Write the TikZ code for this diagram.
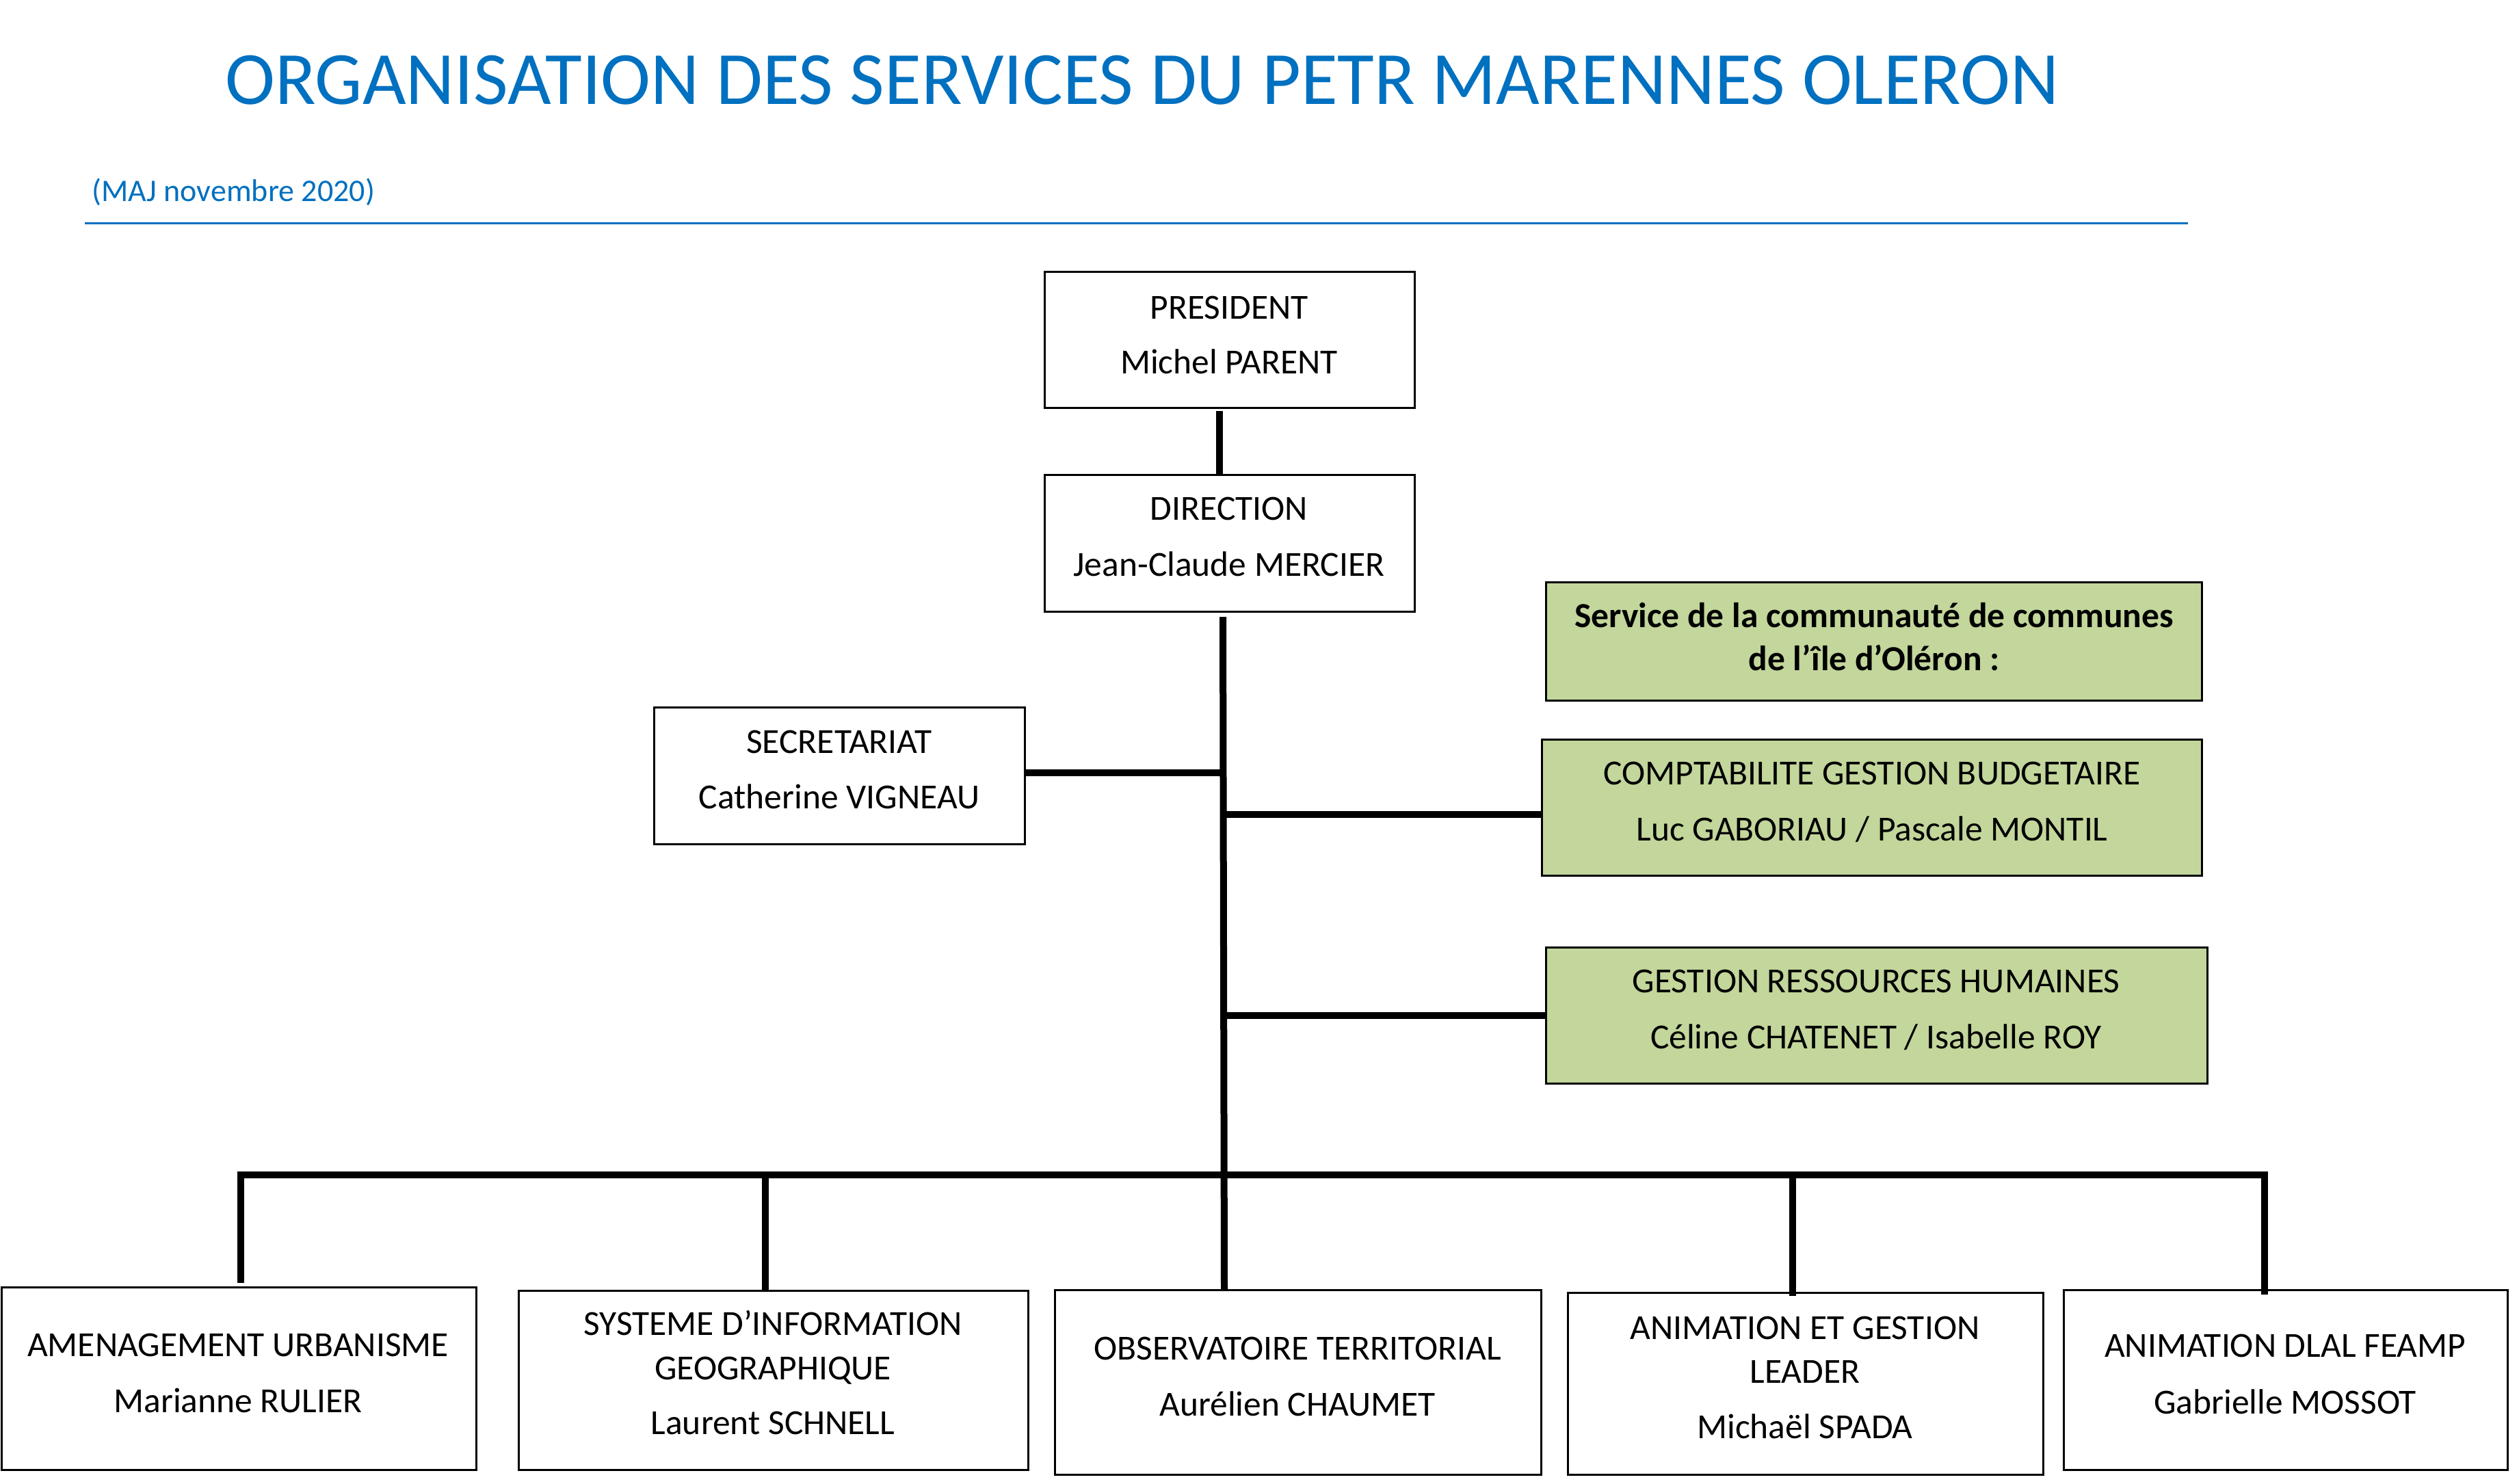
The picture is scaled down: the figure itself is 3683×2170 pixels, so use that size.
\documentclass[tikz,border=0pt]{standalone}
\usepackage{fontspec}
\setmainfont{Carlito}
\definecolor{ttlblue}{HTML}{0070C0}
\definecolor{ccgreen}{HTML}{C3D69B}
\tikzset{
  orgbox/.style={draw=black, line width=3pt, inner sep=0pt, outer sep=0pt, fill=white},
  greenbox/.style={orgbox, fill=ccgreen},
  btxt/.style={anchor=base, inner sep=0pt, font=\fontsize{51.5}{60}\selectfont},
  link/.style={line width=10pt, draw=black},
}
\begin{document}
\begin{tikzpicture}[x=1pt, y=-1pt]
\useasboundingbox (0,0) rectangle (3683,2170);

% title
\node[anchor=base west, inner sep=0pt, text=ttlblue, font=\fontsize{110}{130}\selectfont] (title) at (329,153) {ORGANISATION DES SERVICES DU PETR MARENNES OLERON};
\node[anchor=base west, inner sep=0pt, text=ttlblue, font=\fontsize{46}{54}\selectfont] (maj) at (134,294) {(MAJ novembre 2020)};
\coordinate (rl) at (124,326);
\coordinate (rr) at (3199,326);
\draw[ttlblue, line width=3pt] (rl) -- (rr);

% boxes
\node[orgbox, minimum width=541pt, minimum height=199pt] (pres) at (1797.5,496.5) {};
\node[orgbox, minimum width=541pt, minimum height=200pt] (dir) at (1797.5,794) {};
\node[orgbox, minimum width=542pt, minimum height=200pt] (sec) at (1227,1134) {};
\node[greenbox, minimum width=959pt, minimum height=173pt] (ccoi) at (2739.5,937.5) {};
\node[greenbox, minimum width=965pt, minimum height=199pt] (compta) at (2736.5,1180.5) {};
\node[greenbox, minimum width=967pt, minimum height=199pt] (grh) at (2743.5,1484.5) {};
\node[orgbox, minimum width=694pt, minimum height=267pt] (b1) at (349,2015.5) {};
\node[orgbox, minimum width=745pt, minimum height=262pt] (b2) at (1130.5,2018) {};
\node[orgbox, minimum width=711pt, minimum height=270pt] (b3) at (1897.5,2021) {};
\node[orgbox, minimum width=695pt, minimum height=266pt] (b4) at (2639.5,2023) {};
\node[orgbox, minimum width=649pt, minimum height=263pt] (b5) at (3341.5,2017.5) {};

% texts
\node[btxt] (presA) at (1797,466) {PRESIDENT};
\node[btxt] (presB) at (1797,546) {Michel PARENT};
\node[btxt] (dirA) at (1797,760) {DIRECTION};
\node[btxt] (dirB) at (1797,842) {Jean-Claude MERCIER};
\node[btxt] (secA) at (1227,1101) {SECRETARIAT};
\node[btxt] (secB) at (1227,1182) {Catherine VIGNEAU};
\node[btxt, font=\fontsize{51.5}{60}\selectfont\bfseries] (ccoiA) at (2740,917) {Service de la communauté de communes};
\node[btxt, font=\fontsize{51.5}{60}\selectfont\bfseries] (ccoiB) at (2740,980) {de l’île d’Oléron :};
\node[btxt] (comptaA) at (2737,1147) {COMPTABILITE GESTION BUDGETAIRE};
\node[btxt] (comptaB) at (2737,1229) {Luc GABORIAU / Pascale MONTIL};
\node[btxt] (grhA) at (2743,1451) {GESTION RESSOURCES HUMAINES};
\node[btxt] (grhB) at (2743,1533) {Céline CHATENET / Isabelle ROY};
\node[btxt] (b1A) at (348,1983) {AMENAGEMENT URBANISME};
\node[btxt] (b1B) at (348,2065) {Marianne RULIER};
\node[btxt] (b2A) at (1130,1952) {SYSTEME D’INFORMATION};
\node[btxt] (b2B) at (1130,2017) {GEOGRAPHIQUE};
\node[btxt] (b2C) at (1130,2097) {Laurent SCHNELL};
\node[btxt] (b3A) at (1897,1988) {OBSERVATOIRE TERRITORIAL};
\node[btxt] (b3B) at (1897,2070) {Aurélien CHAUMET};
\node[btxt] (b4A) at (2639,1958) {ANIMATION ET GESTION};
\node[btxt] (b4B) at (2639,2022) {LEADER};
\node[btxt] (b4C) at (2639,2103) {Michaël SPADA};
\node[btxt] (b5A) at (3341,1984) {ANIMATION DLAL FEAMP};
\node[btxt] (b5B) at (3341,2067) {Gabrielle MOSSOT};

% connectors
\coordinate (pd) at (1783,601);
\draw[link] (pd) -- (pd |- dir.north);
\coordinate (trtop) at (1788,902);
\coordinate (trx) at (1790,0);
\draw[link] (trtop) -- (trx |- b3.north);
\draw[link] ([yshift=4pt]sec.east) -- ([yshift=4pt]sec.east -| trtop);
\coordinate (cy) at (0,1191);
\draw[link] (trtop |- cy) -- (compta.west |- cy);
\draw[link] (trtop |- grh.west) -- (grh.west);
% horizontal distribution bar
\coordinate (barL) at (352,1718);
\coordinate (barR) at (3311,1718);
\coordinate (d1) at (352,1876);
\coordinate (d5) at (3311,1893);
\draw[link, line join=miter] (d1) -- (barL) -- (barR) -- (d5);
\coordinate (x2) at (1119,1713);
\draw[link] (x2) -- (x2 |- b2.north);
\coordinate (x4) at (2621,1713);
\coordinate (d4) at (2621,1895);
\draw[link] (x4) -- (d4);
\end{tikzpicture}
\end{document}
